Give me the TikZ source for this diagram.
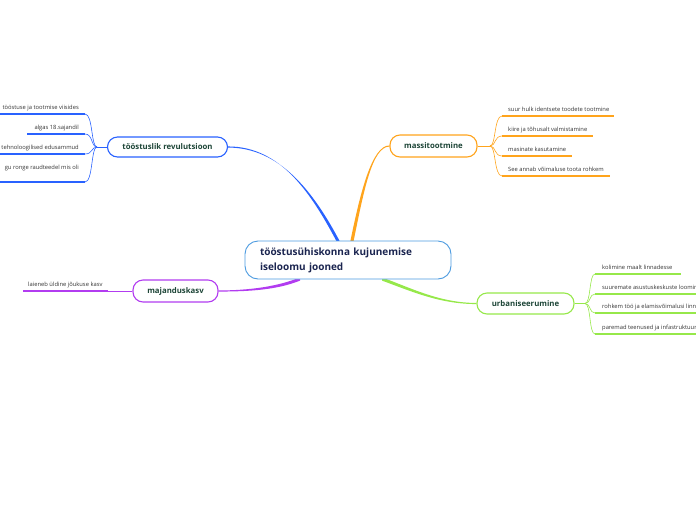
\documentclass[tikz,border=0pt]{standalone}
\usepackage{fontspec}
\setmainfont{Open Sans}
\usetikzlibrary{calc}
\definecolor{bluec}{HTML}{2962FF}
\definecolor{orangec}{HTML}{FFA41C}
\definecolor{greenc}{HTML}{96E84A}
\definecolor{purplec}{HTML}{B23CF0}
\definecolor{centerc}{HTML}{4C9BE0}
\definecolor{nodetext}{HTML}{1E4638}
\definecolor{centertext}{HTML}{1B2550}
\definecolor{leaftext}{HTML}{333333}
\begin{document}
\begin{tikzpicture}[x=1pt,y=-1pt,
  mainbox/.style={draw, rounded corners=10pt, line width=1.1pt, fill=white, text=nodetext,
    font=\fontsize{7.8}{9}\selectfont\bfseries, inner sep=0pt},
  centerbox/.style={draw=centerc, rounded corners=13pt, line width=0.9pt, fill=white, text=centertext,
    font=\fontsize{10}{15}\selectfont\bfseries, inner sep=0pt, align=left, text width=176pt,
    minimum width=206pt, minimum height=38pt},
  leaf/.style={text=leaftext, font=\fontsize{5.8}{7}\selectfont, inner sep=0pt},
  twig/.style={line width=0.6pt},
  uline/.style={line width=1.5pt}
]
\useasboundingbox (0,0) rectangle (696,520);
\clip (0,0) rectangle (696,520);

\coordinate (cb) at (338,241);
\coordinate (co) at (352,241);
\coordinate (cg) at (382,279);
\coordinate (cp) at (300,279);

% nodes
\node[mainbox, draw=bluec, minimum width=120pt, minimum height=20pt] (toost) at (167.5,147) {tööstuslik revulutsioon};
\node[mainbox, draw=orangec, minimum width=87pt, minimum height=22pt] (mass) at (433.5,146) {massitootmine};
\node[mainbox, draw=greenc, minimum width=97pt, minimum height=21pt] (urb) at (525.5,303.5) {urbaniseerumine};
\node[mainbox, draw=purplec, minimum width=85pt, minimum height=22pt] (maj) at (175.5,291) {majanduskasv};

% tapered main connectors
\fill[bluec] ($(cb)+(-1.6,0)$) .. controls (310.4,192) and (280,146.4) .. ($(toost.east)+(0,-0.55)$)
  -- ($(toost.east)+(0,0.55)$) .. controls (280,147.6) and (313.6,192) .. ($(cb)+(1.6,0)$) -- cycle;
\fill[orangec] ($(co)+(-1.6,0)$) .. controls (360.4,192) and (372,145.4) .. ($(mass.west)+(0,-0.55)$)
  -- ($(mass.west)+(0,0.55)$) .. controls (372,146.6) and (363.6,192) .. ($(co)+(1.6,0)$) -- cycle;
\fill[greenc] ($(cg)+(0,-1.6)$) .. controls (412,288.4) and (440,302.9) .. ($(urb.west)+(0,-0.55)$)
  -- ($(urb.west)+(0,0.55)$) .. controls (440,304.1) and (412,291.6) .. ($(cg)+(0,1.6)$) -- cycle;
\fill[purplec] ($(cp)+(0,-1.6)$) .. controls (278,286.4) and (250,290.4) .. ($(maj.east)+(0,-0.55)$)
  -- ($(maj.east)+(0,0.55)$) .. controls (250,291.6) and (278,289.6) .. ($(cp)+(0,1.6)$) -- cycle;

\node[centerbox] (center) at (348,260) {tööstusühiskonna kujunemise\\iseloomu jooned};

% blue leaves
\coordinate (bj) at (97,147);
\coordinate (b1a) at (0,114); \coordinate (b1b) at (85,114);
\coordinate (b2a) at (27,134); \coordinate (b2b) at (85,134);
\coordinate (b3a) at (0,154); \coordinate (b3b) at (85,154);
\coordinate (b4a) at (0,182); \coordinate (b4b) at (85,182);
\node[leaf, anchor=base east] (b1) at (79,109) {tööstuse ja tootmise viisides};
\node[leaf, anchor=base east] (b2) at (79,129) {algas 18.sajandil};
\node[leaf, anchor=base east] (b3) at (79,149) {tehnoloogilised edusammud};
\node[leaf, anchor=base east] (b4) at (79,169) {gu ronge raudteedel mis oli};
\draw[uline, bluec] (b1a) -- (b1b);
\draw[uline, bluec] (b2a) -- (b2b);
\draw[uline, bluec] (b3a) -- (b3b);
\draw[uline, bluec] (b4a) -- (b4b);
\draw[twig, bluec] (toost.west) -- (bj);
\draw[twig, bluec] (bj) .. controls (91,147) and (93,114) .. (b1b);
\draw[twig, bluec] (bj) .. controls (91,147) and (93,134) .. (b2b);
\draw[twig, bluec] (bj) .. controls (91,147) and (93,154) .. (b3b);
\draw[twig, bluec] (bj) .. controls (91,147) and (93,182) .. (b4b);

% orange leaves
\coordinate (oj) at (490,146);
\coordinate (o1a) at (502,116); \coordinate (o1b) at (614,116);
\coordinate (o2a) at (502,136); \coordinate (o2b) at (593,136);
\coordinate (o3a) at (502,156); \coordinate (o3b) at (572,156);
\coordinate (o4a) at (502,176); \coordinate (o4b) at (610,176);
\node[leaf, anchor=base west] (o1) at (508,111) {suur hulk identsete toodete tootmine};
\node[leaf, anchor=base west] (o2) at (508,131) {kiire ja tõhusalt valmistamine};
\node[leaf, anchor=base west] (o3) at (508,151) {masinate kasutamine};
\node[leaf, anchor=base west] (o4) at (508,171) {See annab võimaluse toota rohkem};
\draw[uline, orangec] (o1a) -- (o1b);
\draw[uline, orangec] (o2a) -- (o2b);
\draw[uline, orangec] (o3a) -- (o3b);
\draw[uline, orangec] (o4a) -- (o4b);
\draw[twig, orangec] (mass.east) -- (oj);
\draw[twig, orangec] (oj) .. controls (496,146) and (494,116) .. (o1a);
\draw[twig, orangec] (oj) .. controls (496,146) and (494,136) .. (o2a);
\draw[twig, orangec] (oj) .. controls (496,146) and (494,156) .. (o3a);
\draw[twig, orangec] (oj) .. controls (496,146) and (494,176) .. (o4a);

% green leaves
\coordinate (gj) at (585,303.5);
\coordinate (g1a) at (595,274); \coordinate (g1b) at (681,274);
\coordinate (g2a) at (595,294); \coordinate (g2b) at (700,294);
\coordinate (g3a) at (595,313); \coordinate (g3b) at (700,313);
\coordinate (g4a) at (595,334); \coordinate (g4b) at (700,334);
\node[leaf, anchor=base west] (g1) at (602,269) {kolimine maalt linnadesse};
\node[leaf, anchor=base west] (g2) at (602,289) {suuremate asustuskeskuste loomine};
\node[leaf, anchor=base west] (g3) at (602,308.5) {rohkem töö ja elamisvõimalusi linnades};
\node[leaf, anchor=base west] (g4) at (602,329) {paremad teenused ja infastruktuur};
\draw[uline, greenc] (g1a) -- (g1b);
\draw[uline, greenc] (g2a) -- (g2b);
\draw[uline, greenc] (g3a) -- (g3b);
\draw[uline, greenc] (g4a) -- (g4b);
\draw[twig, greenc] (urb.east) -- (gj);
\draw[twig, greenc] (gj) .. controls (591,303.5) and (589,274) .. (g1a);
\draw[twig, greenc] (gj) .. controls (591,303.5) and (589,294) .. (g2a);
\draw[twig, greenc] (gj) .. controls (591,303.5) and (589,313) .. (g3a);
\draw[twig, greenc] (gj) .. controls (591,303.5) and (589,334) .. (g4a);

% purple leaf
\coordinate (p1a) at (23,291); \coordinate (p1b) at (108,291);
\node[leaf, anchor=base west] (p1) at (28,286) {laieneb üldine jõukuse kasv};
\draw[uline, purplec] (p1a) -- (p1b);
\draw[line width=0.9pt, purplec] (maj.west) -- (p1b);
\end{tikzpicture}
\end{document}
